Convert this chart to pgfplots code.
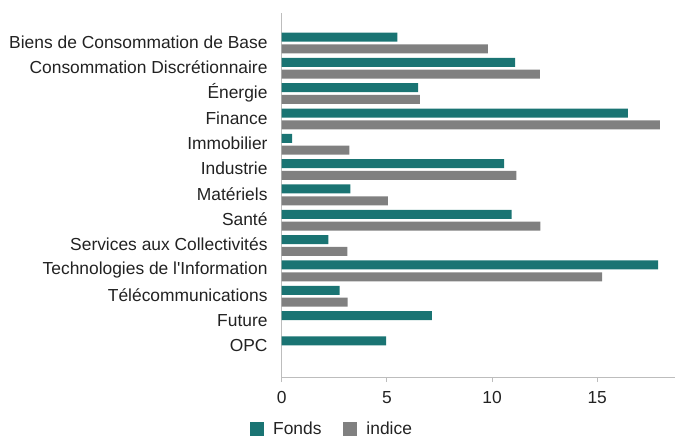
\documentclass[border=0pt]{standalone}
\usepackage{pgfplots}
\pgfplotsset{compat=1.18}
\usepackage{pgfplotstable}
\usepackage{fontspec}
\setmainfont{Liberation Sans}
\definecolor{fonds}{HTML}{1A7473}
\definecolor{indice}{HTML}{808080}
\definecolor{axisgray}{HTML}{BDBDBD}
\definecolor{txt}{HTML}{222222}
\pgfplotstableread{
idx fonds indice
12 5.50 9.80
11 11.10 12.27
10 6.49 6.57
9 16.46 17.98
8 0.49 3.22
7 10.57 11.16
6 3.27 5.05
5 10.93 12.30
4 2.22 3.12
3 17.90 15.24
2 2.76 3.14
1 7.14 nan
0 4.97 nan
}\datatable
\begin{document}
\begin{tikzpicture}
\useasboundingbox (-281.7bp,-61bp) rectangle (393.3bp,377bp);
\begin{axis}[
  at={(0,0)}, anchor=south west,
  scale only axis, width=393.3bp, height=363.7bp,
  xbar, bar width=9bp,
  xmin=0, xmax=18.7, ymin=-1.19, ymax=13.17,
  axis lines*=left,
  axis line style={axisgray, line width=1pt},
  x axis line style={-}, y axis line style={-},
  xtick={0,5,10,15},
  xtick style={axisgray, line width=1pt},
  major tick length=5bp,
  tick align=outside,
  ytick={0,...,12},
  yticklabels={OPC,Future,Télécommunications,Technologies de l\textquotesingle Information,Services aux Collectivités,Santé,Matériels,Industrie,Immobilier,Finance,Énergie,Consommation Discrétionnaire,Biens de Consommation de Base},
  ytick style={draw=none},
  yticklabel style={font=\fontsize{17.4bp}{21bp}\selectfont, text=txt, inner sep=0pt, xshift=-9bp, yshift=1bp},
  xticklabel style={font=\fontsize{17.4bp}{21bp}\selectfont, text=txt, inner sep=0pt, yshift=-9bp},
  /pgf/number format/assume math mode=true,
  legend columns=2,
  legend style={draw=none, fill=none, at={(0.128,-0.144)}, anchor=center,
    font=\fontsize{17.4bp}{21bp}\selectfont, text=txt,
    /tikz/every even column/.append style={column sep=20bp}},
  legend image code/.code={\fill[#1] (0bp,-7bp) rectangle (14bp,7bp); \path (21bp,0bp);},
]
\addplot[draw=none, fill=fonds, bar shift=5.9bp] table[x=fonds, y=idx] {\datatable};
\addlegendentry{Fonds}
\addplot[draw=none, fill=indice, bar shift=-5.9bp] table[x=indice, y=idx] {\datatable};
\addlegendentry{indice}
\end{axis}
\end{tikzpicture}
\end{document}
